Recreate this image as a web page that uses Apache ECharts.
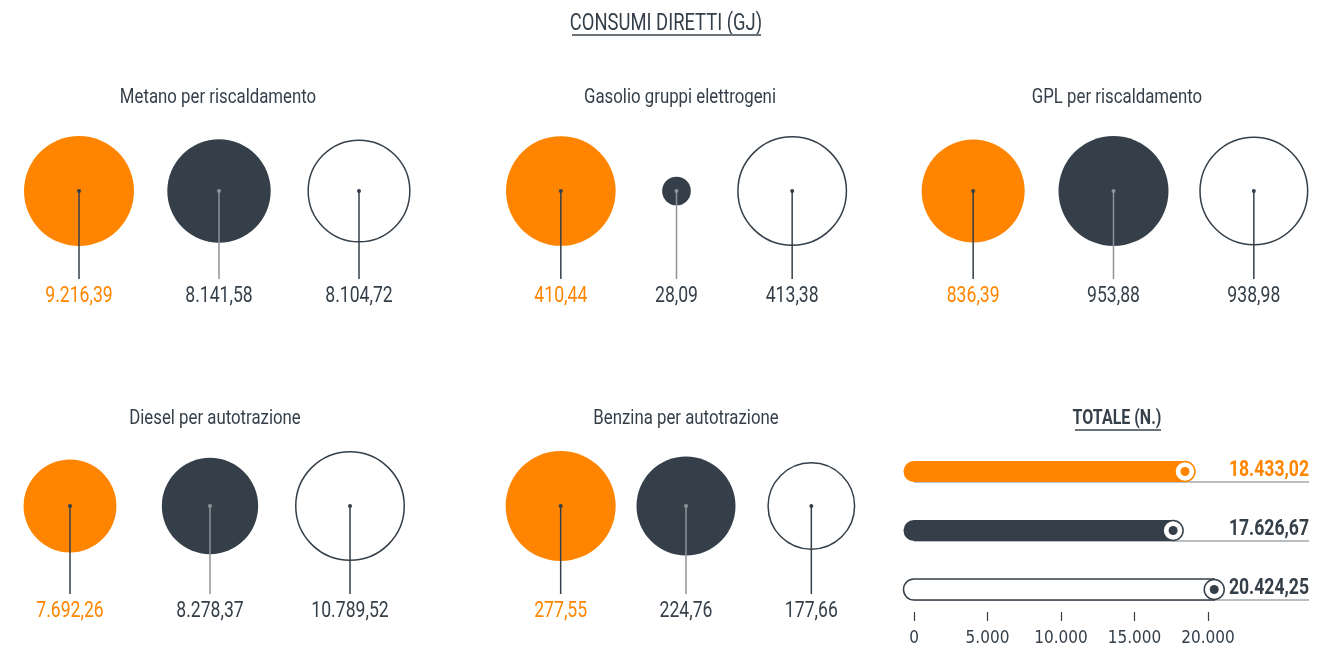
<!DOCTYPE html>
<html>
<head>
<meta charset="utf-8">
<title>Consumi diretti (GJ)</title>
<script src="https://cdn.jsdelivr.net/npm/echarts@6/dist/echarts.min.js"></script>
<style>
    html, body { margin: 0; padding: 0; background: #fff; }
    #chart { width: 1342px; height: 647px; }
</style>
</head>
<body>
<div id="chart"></div>
<script>
// dati
const panelTitles = [
    'Metano per riscaldamento',
    'Gasolio gruppi elettrogeni',
    'GPL per riscaldamento',
    'Diesel per autotrazione',
    'Benzina per autotrazione'
];
const metano = [9216.39, 8141.58, 8104.72];
const gasolio = [410.44, 28.09, 413.38];
const gpl = [836.39, 953.88, 938.98];
const diesel = [7692.26, 8278.37, 10789.52];
const benzina = [277.55, 224.76, 177.66];
const totale = [18433.02, 17626.67, 20424.25];

const ORANGE = '#FF8500';
const DARK = '#343F49';
const GREY = '#A3A8AD';
const FONT = "Roboto, sans-serif";
const AXIS_FONT = "'DejaVu Sans Condensed', Roboto, sans-serif";
const SQUEEZE = 0.8; // il font originale è condensato

function fmt(v, dec) {
    const parts = v.toFixed(dec).split('.');
    const int = parts[0].replace(/\B(?=(\d{3})+(?!\d))/g, '.');
    return dec ? int + ',' + parts[1] : int;
}

function label(x, y, text, font, fill, align) {
    return {
        type: 'text',
        x: x, y: y,
        scaleX: SQUEEZE,
        style: { text: text, font: font, fill: fill, align: align || 'center', verticalAlign: 'middle' }
    };
}

// layout dei pannelli
const panels = [
    { data: metano, left: 9, width: 420, cy: 191 },
    { data: gasolio, left: 503, width: 347, cy: 191 },
    { data: gpl, left: 903, width: 421, cy: 191 },
    { data: diesel, left: 0, width: 420, cy: 506 },
    { data: benzina, left: 498, width: 376, cy: 506 }
];
const titlePos = [
    [218, 98], [680, 98], [1117, 98], [215, 419], [686, 419]
];

const MAX_R = 55;
const fills = [ORANGE, DARK, '#fff'];
const stemColors = [DARK, '#8E9398', DARK];
const labelColors = [ORANGE, DARK, DARK];

const grids = [], xAxes = [], yAxes = [], series = [];

panels.forEach((p, i) => {
    grids.push({ left: p.left, width: p.width, top: p.cy - 60, height: 120 });
    xAxes.push({ type: 'category', gridIndex: i, data: ['a', 'b', 'c'], show: false });
    yAxes.push({ type: 'value', gridIndex: i, min: -1, max: 1, show: false });
    const maxV = Math.max(...p.data);
    series.push({
        type: 'custom',
        xAxisIndex: i,
        yAxisIndex: i,
        data: p.data.map((v, k) => [k, 0, v]),
        renderItem: function (params, api) {
            const k = api.value(0);
            const v = api.value(2);
            const c = api.coord([k, 0]);
            const r = MAX_R * Math.sqrt(v / maxV);
            return {
                type: 'group',
                children: [
                    {
                        type: 'circle',
                        shape: { cx: c[0], cy: c[1], r: k === 2 ? r - 0.75 : r },
                        style: { fill: fills[k], stroke: k === 2 ? DARK : null, lineWidth: 1.5 }
                    },
                    {
                        type: 'line',
                        shape: { x1: c[0], y1: c[1], x2: c[0], y2: c[1] + 88 },
                        style: { stroke: stemColors[k], lineWidth: 1.5 }
                    },
                    {
                        type: 'circle',
                        shape: { cx: c[0], cy: c[1], r: 2 },
                        style: { fill: stemColors[k] }
                    },
                    label(c[0], c[1] + 105, fmt(v, 2), '22px ' + FONT, labelColors[k])
                ]
            };
        }
    });
});

// pannello totale
const gi = panels.length;
grids.push({ left: 914, width: 294, top: 442, height: 177 });
xAxes.push({
    type: 'value', gridIndex: gi, min: 0, max: 20000, interval: 5000,
    offset: -7,
    splitLine: { show: false },
    axisLine: { show: false },
    axisTick: { show: true, length: 9, lineStyle: { color: DARK, width: 1.2 } },
    axisLabel: {
        margin: 18, color: DARK, fontSize: 17, fontFamily: AXIS_FONT,
        formatter: v => fmt(v, 0)
    }
});
yAxes.push({ type: 'category', gridIndex: gi, inverse: true, data: ['a', 'b', 'c'], show: false });

const barFills = [ORANGE, DARK, '#fff'];
const markStroke = [ORANGE, DARK, DARK];
series.push({
    type: 'custom',
    xAxisIndex: gi,
    yAxisIndex: gi,
    data: totale.map((v, k) => [v, k]),
    renderItem: function (params, api) {
        const v = api.value(0);
        const k = api.value(1);
        const s = api.coord([0, k]);
        const e = api.coord([v, k]);
        const h = 21;
        const top = s[1] - h / 2;
        return {
            type: 'group',
            children: [
                {
                    type: 'line',
                    shape: { x1: s[0], y1: top + h, x2: 1309, y2: top + h },
                    style: { stroke: GREY, lineWidth: 1.5 }
                },
                {
                    type: 'rect',
                    shape: { x: s[0] - h / 2, y: top, width: e[0] - s[0] + h / 2, height: h, r: [h / 2, 0, 0, h / 2] },
                    style: { fill: barFills[k], stroke: k === 2 ? DARK : null, lineWidth: 1.5 }
                },
                {
                    type: 'circle',
                    shape: { cx: e[0], cy: e[1], r: 10 },
                    style: { fill: '#fff', stroke: markStroke[k], lineWidth: 1.5 }
                },
                {
                    type: 'circle',
                    shape: { cx: e[0], cy: e[1], r: 4.5 },
                    style: { fill: markStroke[k] }
                },
                label(1309, e[1] - 1.5, fmt(v, 2), 'bold 22px ' + FONT, k === 0 ? ORANGE : DARK, 'right')
            ]
        };
    }
});

// titoli come testo grafico (condensato)
const graphics = [
    label(666, 24, 'CONSUMI DIRETTI (GJ)', '23px ' + FONT, DARK),
    { type: 'line', shape: { x1: 572, y1: 35, x2: 761, y2: 35 }, style: { stroke: '#6B737A', lineWidth: 2 } },
    label(1117, 419, 'TOTALE (N.)', 'bold 20px ' + FONT, DARK),
    { type: 'line', shape: { x1: 1075, y1: 430, x2: 1161, y2: 430 }, style: { stroke: '#6B737A', lineWidth: 2 } }
];
panelTitles.forEach((t, i) => {
    graphics.push(label(titlePos[i][0], titlePos[i][1], t, '21px ' + FONT, DARK));
});

const chart = echarts.init(document.getElementById('chart'));
chart.setOption({
    animation: false,
    grid: grids,
    xAxis: xAxes,
    yAxis: yAxes,
    series: series,
    graphic: graphics
});
</script>
</body>
</html>
